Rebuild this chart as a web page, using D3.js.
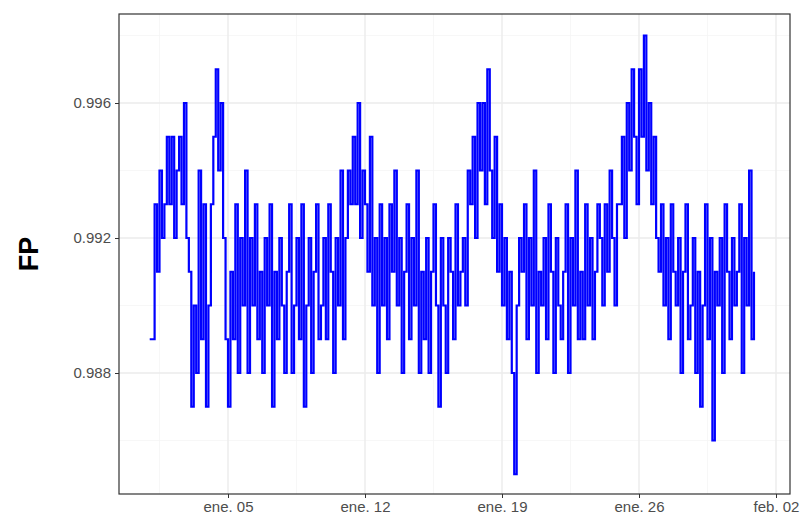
<!DOCTYPE html>
<html><head><meta charset="utf-8">
<script src="https://cdn.jsdelivr.net/npm/d3@7"></script>
<style>body{margin:0;background:#fff}text{font-family:"Liberation Sans",Arial,sans-serif}</style>
</head><body><svg id="c" width="811" height="528"></svg>
<script>
// 3-hourly FP readings, Jan 1 .. Jan 31 (8 per day)
const fp = [
  .989,.989,.993,.991,.994,.992,.993,.995,
  .993,.995,.992,.994,.995,.993,.996,.992,
  .991,.987,.990,.988,.994,.989,.993,.987,
  .990,.993,.995,.997,.994,.996,.992,.989,
  .987,.991,.989,.993,.988,.992,.990,.994,
  .988,.992,.990,.993,.989,.991,.988,.992,
  .990,.993,.987,.991,.989,.992,.990,.988,
  .991,.993,.988,.990,.992,.989,.993,.987,
  .990,.992,.988,.991,.993,.989,.990,.992,
  .989,.993,.991,.988,.992,.990,.994,.989,
  .992,.994,.993,.995,.993,.996,.992,.994,
  .993,.991,.995,.990,.992,.988,.993,.990,
  .992,.989,.993,.991,.994,.990,.992,.988,
  .991,.993,.989,.992,.990,.994,.988,.991,
  .989,.992,.988,.991,.993,.990,.987,.992,
  .990,.988,.992,.991,.989,.993,.990,.991,
  .992,.990,.994,.993,.995,.992,.996,.994,
  .996,.993,.997,.994,.992,.995,.991,.993,
  .990,.992,.989,.991,.988,.985,.990,.992,
  .991,.993,.989,.992,.990,.994,.988,.991,
  .990,.992,.989,.993,.991,.988,.992,.990,
  .989,.991,.993,.988,.992,.990,.994,.989,
  .991,.989,.993,.990,.992,.989,.991,.993,
  .992,.990,.993,.991,.994,.992,.990,.993,
  .993,.995,.992,.996,.994,.997,.995,.993,
  .997,.995,.998,.994,.996,.993,.995,.992,
  .991,.993,.990,.992,.989,.993,.991,.990,
  .992,.988,.991,.993,.989,.990,.992,.988,
  .991,.987,.990,.993,.989,.992,.986,.991,
  .990,.992,.988,.993,.991,.989,.992,.990,
  .991,.993,.988,.992,.990,.994,.989,.991
];
const start = new Date(2024, 0, 1);
const data = fp.map((v, i) => ({ t: new Date(+start + i * 3 * 3600e3), v }));
const yTicks = [0.988, 0.992, 0.996];
const yMinor = [0.986, 0.990, 0.994, 0.998];
const xTicks = [new Date(2024,0,5), new Date(2024,0,12), new Date(2024,0,19), new Date(2024,0,26), new Date(2024,1,2)];
const months = ["ene.","feb."];

const L = 119, R = 790, T = 14, B = 494;
// ene.05 -> 228, 7 days = 137px
const x = d3.scaleTime()
  .domain([new Date(+xTicks[0] - (228-L)/137*7*864e5), new Date(+xTicks[0] + (R-228)/137*7*864e5)])
  .range([L, R]);
const y = d3.scaleLinear().domain([0.988 - (B-373)/33.75*0.001, 0.996 + (103-T)/33.75*0.001]).range([B, T]);

const svg = d3.select("#c");
const g = svg.append("g");
const xMinor = d3.range(xTicks.length + 1).map(i => new Date(+xTicks[0] + (i - 0.5) * 7 * 864e5));
g.selectAll(".xm").data(xMinor).join("line").attr("x1", d=>x(d)).attr("x2", d=>x(d)).attr("y1",T).attr("y2",B).attr("stroke","#f3f3f3").attr("stroke-width",0.7);
g.selectAll(".ym").data(yMinor).join("line").attr("x1",L).attr("x2",R).attr("y1",d=>y(d)).attr("y2",d=>y(d)).attr("stroke","#f3f3f3").attr("stroke-width",0.7);
g.selectAll(".xg").data(xTicks).join("line").attr("x1", d=>x(d)).attr("x2", d=>x(d)).attr("y1",T).attr("y2",B).attr("stroke","#ebebeb").attr("stroke-width",1.4);
g.selectAll(".yg").data(yTicks).join("line").attr("x1",L).attr("x2",R).attr("y1",d=>y(d)).attr("y2",d=>y(d)).attr("stroke","#ebebeb").attr("stroke-width",1.4);

svg.append("path").datum(data)
  .attr("d", d3.line().x(d=>x(d.t)).y(d=>y(d.v)).curve(d3.curveStepAfter))
  .attr("fill","none").attr("stroke","#0000ff").attr("stroke-width",2.2);

svg.append("rect").attr("x",L).attr("y",T).attr("width",R-L).attr("height",B-T).attr("fill","none").attr("stroke","#333").attr("stroke-width",1.2);

const fmt = d => months[d.getMonth()] + " " + d3.timeFormat("%d")(d);
svg.append("g").attr("transform",`translate(0,${B})`)
  .call(d3.axisBottom(x).tickValues(xTicks).tickFormat(fmt).tickSize(4).tickPadding(3))
  .call(a => { a.select(".domain").remove(); a.selectAll("line").attr("stroke","#333");
    a.selectAll("text").attr("fill","#4d4d4d").style("font-size","15px"); });
svg.append("g").attr("transform",`translate(${L},0)`)
  .call(d3.axisLeft(y).tickValues(yTicks).tickFormat(d3.format(".3f")).tickSize(4).tickPadding(4))
  .call(a => { a.select(".domain").remove(); a.selectAll("line").attr("stroke","#333");
    a.selectAll("text").attr("fill","#4d4d4d").style("font-size","15px"); });
svg.append("text").attr("transform",`translate(38,${(T+B)/2}) rotate(-90)`).attr("text-anchor","middle")
  .style("font-size","27px").style("font-weight","bold").text("FP");
</script></body></html>
